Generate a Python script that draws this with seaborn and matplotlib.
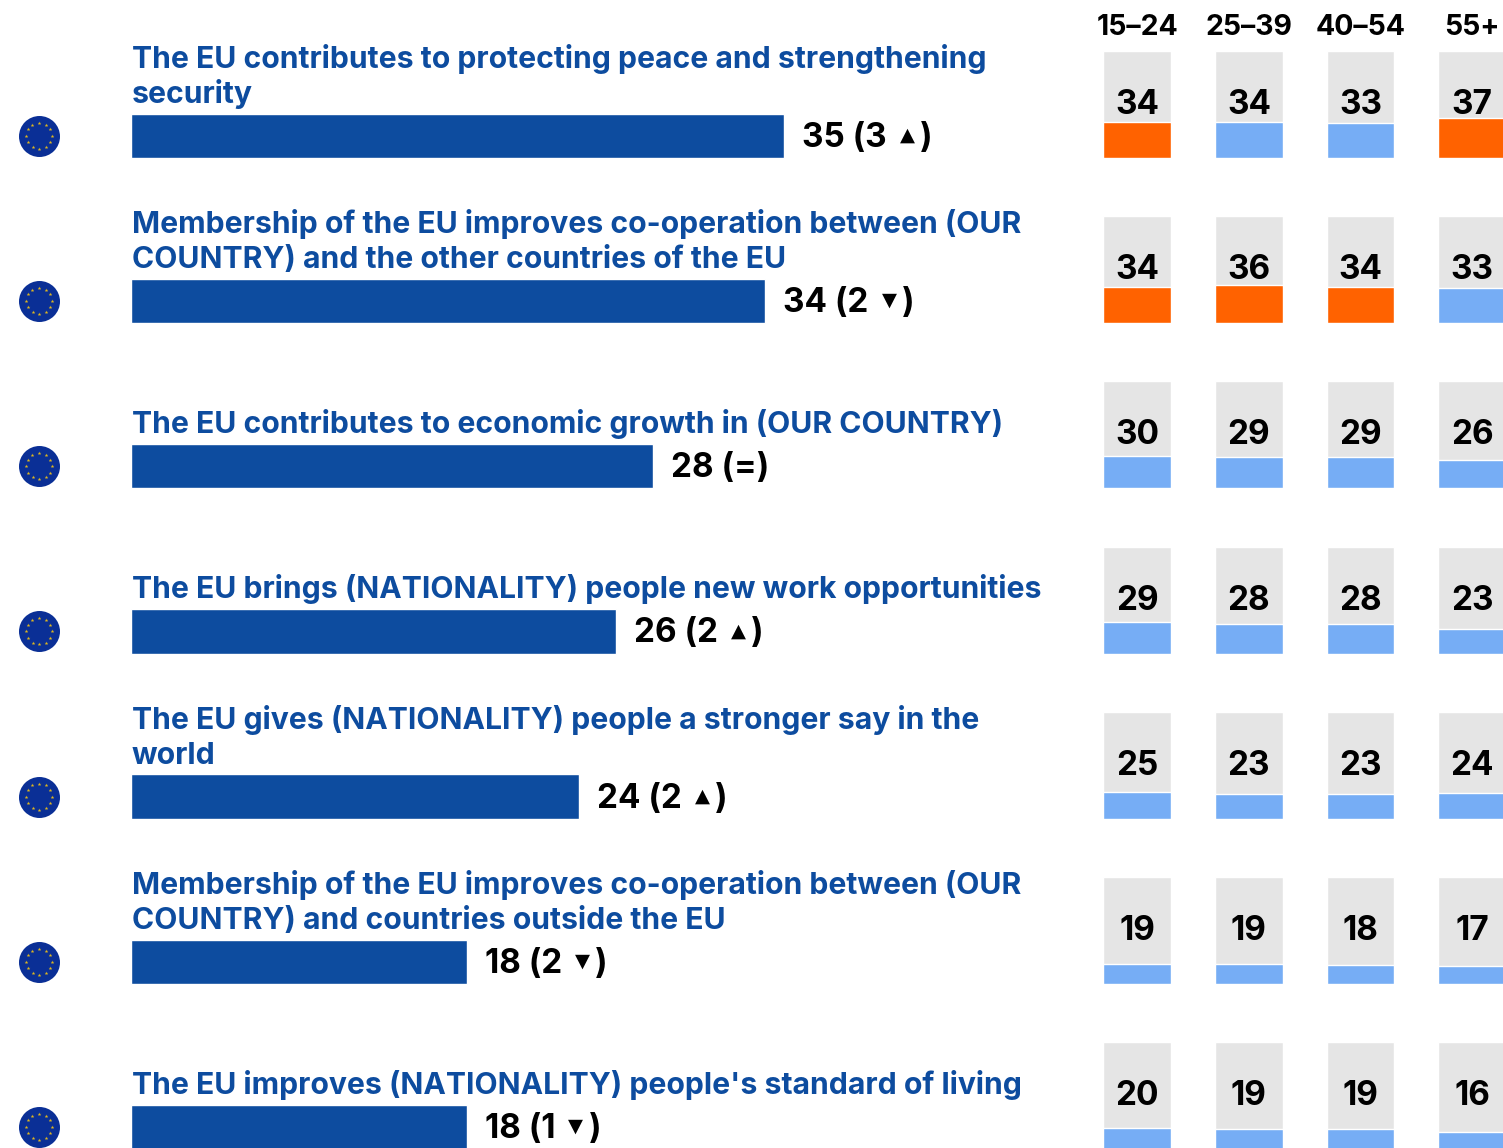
import numpy as np
import pandas as pd
import seaborn as sns
import matplotlib.pyplot as plt

statements = [
    'The EU contributes to protecting peace and strengthening\nsecurity',
    'Membership of the EU improves co-operation between (OUR\nCOUNTRY) and the other countries of the EU',
    'The EU contributes to economic growth in (OUR COUNTRY)',
    'The EU brings (NATIONALITY) people new work opportunities',
    'The EU gives (NATIONALITY) people a stronger say in the\nworld',
    'Membership of the EU improves co-operation between (OUR\nCOUNTRY) and countries outside the EU',
    "The EU improves (NATIONALITY) people's standard of living",
]
eu_values = [35, 34, 28, 26, 24, 18, 18]
changes = ['3', '2', '=', '2', '2', '2', '1']
arrows = ['▲', '▼', '', '▲', '▲', '▼', '▼']

ages = ['15–24', '25–39', '40–54', '55+']
age_15_24 = [34, 34, 30, 29, 25, 19, 20]
age_25_39 = [34, 36, 29, 28, 23, 19, 19]
age_40_54 = [33, 34, 29, 28, 23, 18, 19]
age_55 = [37, 33, 26, 23, 24, 17, 16]
# highest cells per row are orange in the original
highlight_15_24 = [1, 1, 0, 0, 0, 0, 0]
highlight_25_39 = [0, 1, 0, 0, 0, 0, 0]
highlight_40_54 = [0, 1, 0, 0, 0, 0, 0]
highlight_55 = [1, 0, 0, 0, 0, 0, 0]

age_values = [age_15_24, age_25_39, age_40_54, age_55]
age_highlight = [highlight_15_24, highlight_25_39, highlight_40_54, highlight_55]

BLUE = '#0D4C9F'
FLAG = '#0A2F96'
STAR = '#E0B81E'
LIGHT = '#76ADF5'
ORANGE = '#FF6200'
GREY = '#E5E5E5'
W, H = 1503, 1148
PITCH = 165.2
PX_PER_UNIT = 18.66
BAR_LEFT = 131
ROW0 = 135.8

sns.set_theme(style='white')
plt.rcParams['font.family'] = ['Inter', 'DejaVu Sans']

fig = plt.figure(figsize=(W / 100, H / 100), dpi=100)
ax = fig.add_axes([0, 0, 1, 1])

df = pd.DataFrame({'row': range(len(eu_values)), 'value': eu_values})
sns.barplot(data=df, x='value', y='row', orient='y', order=range(len(eu_values)),
            color=BLUE, saturation=1, width=44.5 / PITCH, ax=ax)
ax.set_xlim(-BAR_LEFT / PX_PER_UNIT, (W - BAR_LEFT) / PX_PER_UNIT)
ax.set_ylim((H - ROW0) / PITCH, -ROW0 / PITCH)
ax.axis('off')

# px offsets converted to points
def px(v):
    return v * 0.72

for i, (s, v, c, a) in enumerate(zip(statements, eu_values, changes, arrows)):
    # one text per line so that line pitch stays the same in every row
    for k, line in enumerate(reversed(s.split('\n'))):
        ax.annotate(line, (0, i), xytext=(px(1), px(22 + 11 + 34.5 * k)), textcoords='offset points',
                    color=BLUE, fontsize=21.7, fontweight='bold', va='baseline', ha='left')
    first = f'{v} ({c}' if a else f'{v} ({c})'
    t = ax.annotate(first, (v, i), xytext=(px(18), px(-11)), textcoords='offset points',
                    color='black', fontsize=24, fontweight='bold', va='baseline', ha='left')
    if a:
        ax.annotate(a, (1, 0), xycoords=t, xytext=(px(13), px(9)), textcoords='offset points',
                    color='black', fontsize=14, family='DejaVu Sans', va='bottom', ha='left')
        ax.annotate(')', (1, 0), xycoords=t, xytext=(px(33), 0), textcoords='offset points',
                    color='black', fontsize=24, fontweight='bold', va='bottom', ha='left')

    # EU flag marker
    ax.scatter([-92 / PX_PER_UNIT], [i], s=(41 * 0.72) ** 2, color=FLAG, linewidths=0,
               clip_on=False, zorder=3)
    ang = np.arange(12) * np.pi / 6
    ax.scatter(-92 / PX_PER_UNIT + 13 * np.cos(ang) / PX_PER_UNIT, i + 13 * np.sin(ang) / PITCH,
               s=8, marker='*', color=STAR, linewidths=0, clip_on=False, zorder=4)

# small age cells, one axes each
for c, name in enumerate(ages):
    x0 = 1103.3 + c * 111.7
    fig.text((x0 + 33.8) / W, 1 - 27.5 / H, name, ha='center', va='center',
             fontsize=20.5, fontweight='bold', color='black')
    for r in range(len(eu_values)):
        top = 50.9 + r * PITCH
        cell = fig.add_axes([x0 / W, 1 - (top + 107) / H, 67.8 / W, 107 / H])
        val = age_values[c][r]
        col = ORANGE if age_highlight[c][r] else LIGHT
        sns.barplot(x=[name], y=[100], color=GREY, saturation=1, width=1, ax=cell)
        sns.barplot(x=[name], y=[val], color=col, saturation=1, width=1, ax=cell)
        cell.set_ylim(0, 100)
        cell.set_xlim(-0.5, 0.5)
        cell.axis('off')
        cell.text(0, 49.5, str(val), ha='center', va='center', color='black',
                  fontsize=24, fontweight='bold', transform=cell.transData)

fig.savefig('out.png', dpi=100)
